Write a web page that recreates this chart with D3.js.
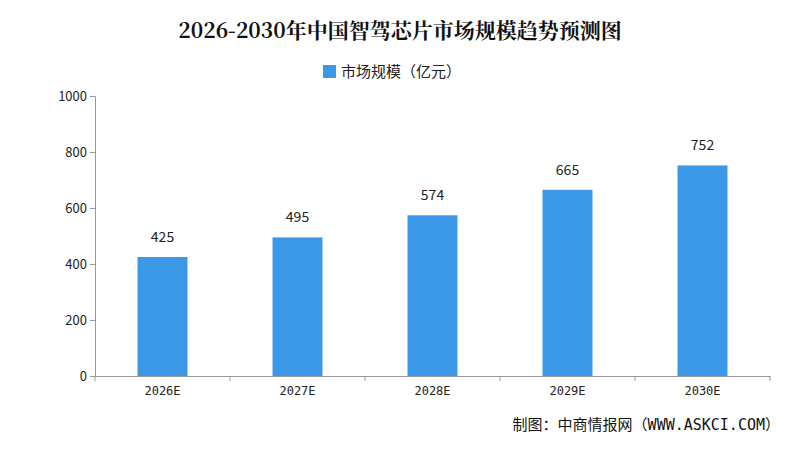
<!DOCTYPE html>
<html><head><meta charset="utf-8">
<script src="https://cdn.jsdelivr.net/npm/d3@7"></script>
<style>body{margin:0;background:#fff}svg{display:block}</style>
</head><body><svg id="c" width="800" height="454"></svg>
<script>
const categories=["2026E","2027E","2028E","2029E","2030E"];
const values=[425,495,574,665,752];
const yTicks=[0,200,400,600,800,1000];
const title="2026-2030年中国智驾芯片市场规模趋势预测图";
const seriesName="市场规模（亿元）";
const source="制图：中商情报网（WWW.ASKCI.COM）";

const svg=d3.select("#c");
const m={l:95,r:770,t:96,b:376};
const x=d3.scaleBand().domain(categories).range([m.l,m.r]).paddingInner(0.63).paddingOuter(0.315);
const xb=d3.scaleBand().domain(categories).range([m.l,m.r]);
const y=d3.scaleLinear().domain([0,1000]).range([m.b,m.t]);
const font="'Noto Sans CJK SC','Noto Sans',sans-serif";
const mono="'DejaVu Sans Mono','Noto Sans CJK SC',monospace";

svg.append("text").attr("x",400).attr("y",38).attr("text-anchor","middle")
 .attr("font-family","'Noto Serif CJK SC','Noto Sans CJK SC',serif").attr("font-weight","bold").attr("font-size",21).attr("fill","#111").text(title);
svg.append("rect").attr("x",323).attr("y",65).attr("width",13).attr("height",13).attr("fill","#3a98e6");
svg.append("text").attr("x",341).attr("y",77).attr("font-family",font).attr("font-size",15).attr("fill","#222").text(seriesName);

const ya=svg.append("g").attr("transform",`translate(${m.l},0)`).call(d3.axisLeft(y).tickValues(yTicks).tickSize(5).tickFormat(d3.format("d")));
ya.selectAll("text").attr("font-family",font).attr("font-size",13).attr("fill","#222");
ya.selectAll("line,path").attr("stroke","#999");

const xa=svg.append("g").attr("transform",`translate(0,${m.b})`).call(d3.axisBottom(xb).tickSize(0).tickFormat(d=>d));
xa.selectAll("text").attr("dy","1.3em").attr("font-family",mono).attr("font-size",12).attr("fill","#222");
xa.select("path").attr("stroke","#999");
xa.selectAll(".sep").data(categories.concat(["_end"])).enter().append("line")
 .attr("x1",(d,i)=>m.l+i*xb.bandwidth()).attr("x2",(d,i)=>m.l+i*xb.bandwidth())
 .attr("y1",0).attr("y2",5).attr("stroke","#999");

svg.selectAll(".bar").data(values).enter().append("rect")
 .attr("x",(d,i)=>x(categories[i])).attr("width",x.bandwidth())
 .attr("y",d=>y(d)).attr("height",d=>m.b-y(d)).attr("fill","#3a98e6");
svg.selectAll(".lbl").data(values).enter().append("text")
 .attr("x",(d,i)=>x(categories[i])+x.bandwidth()/2).attr("y",d=>y(d)-15)
 .attr("text-anchor","middle").attr("font-family",font).attr("font-size",14).attr("fill","#222").text(d=>d);

svg.append("text").attr("x",780).attr("y",430).attr("text-anchor","end").attr("font-family",mono).attr("font-size",15).attr("fill","#111").text(source);
</script></body></html>
